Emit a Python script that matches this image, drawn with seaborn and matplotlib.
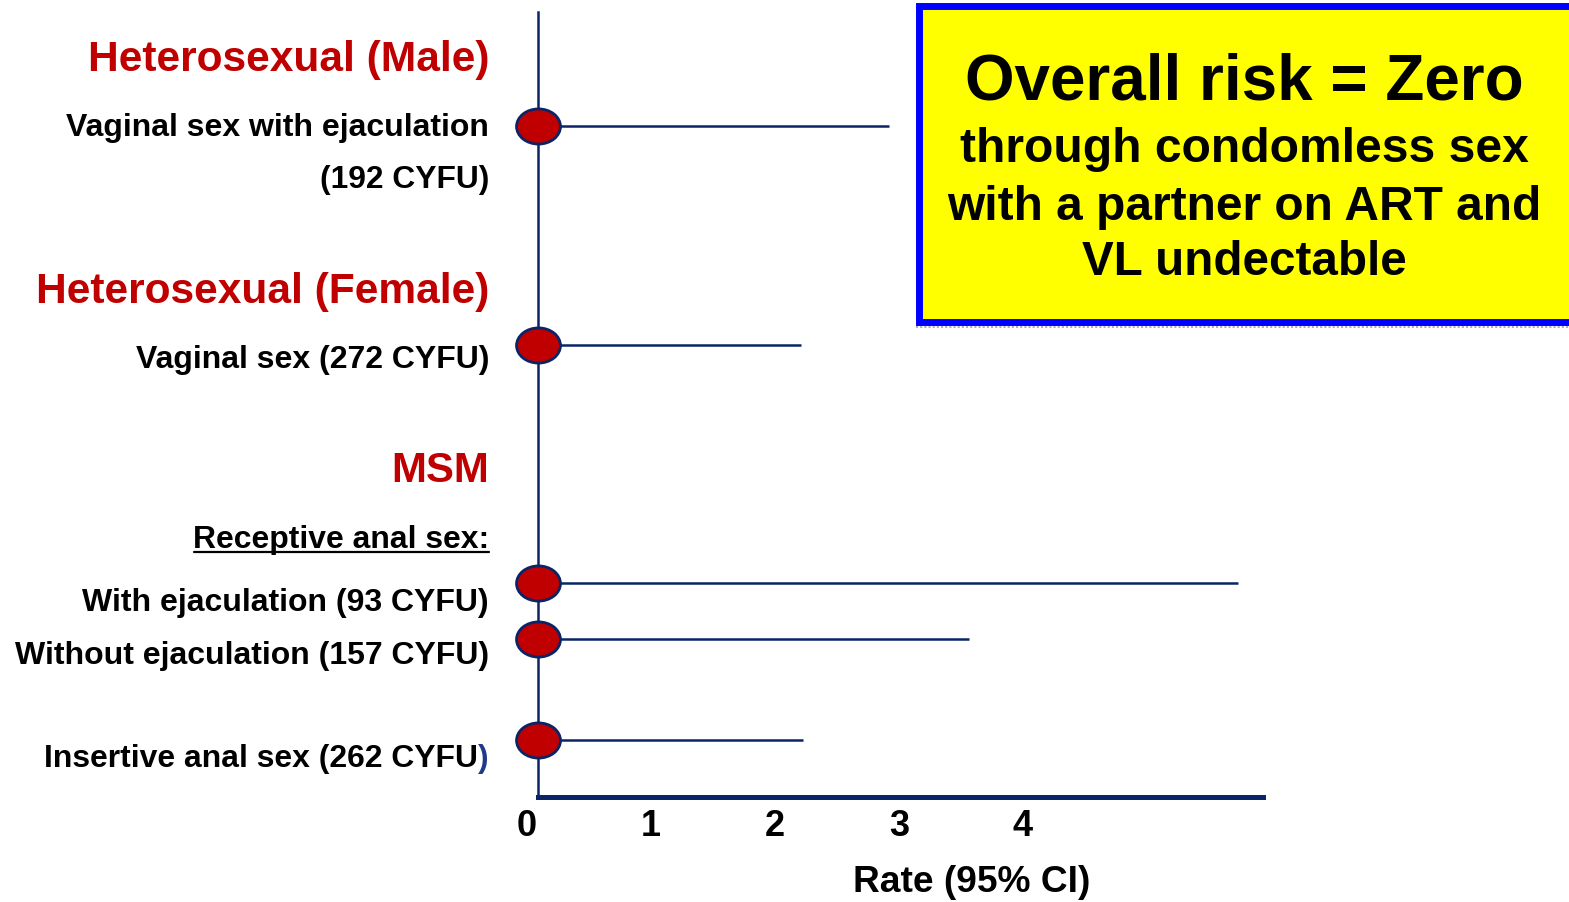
import numpy as np
import pandas as pd
import matplotlib
matplotlib.use("Agg")
import matplotlib.pyplot as plt
import seaborn as sns
from matplotlib.path import Path
from matplotlib.transforms import Affine2D, ScaledTranslation
from matplotlib.patches import Rectangle
from matplotlib.lines import Line2D

# ---------------- data ----------------
categories = ["Vaginal sex with ejaculation", "Vaginal sex",
              "With ejaculation", "Without ejaculation", "Insertive anal sex"]
rate = [0.0, 0.0, 0.0, 0.0, 0.0]
ci_low = [0.0, 0.0, 0.0, 0.0, 0.0]
ci_high = [2.83, 2.12, 5.65, 3.48, 2.14]
tick_values = [0, 1, 2, 3, 4]
tick_labels = ["0", "1", "2", "3", "4"]

# ---------------- layout ----------------
W, H = 1569, 902
row_pos = [126, 345, 583, 639, 740]   # vertical positions of rows (pixel-like units)
NAVY = "#0B2466"
RED = "#C00000"

sns.set_theme(style="white")
plt.rcParams["font.family"] = ["Liberation Sans", "DejaVu Sans"]
plt.rcParams["font.weight"] = "bold"

fig = plt.figure(figsize=(W / 100, H / 100), dpi=100)
fig.patch.set_facecolor("white")
ax = fig.add_axes([538 / W, (H - 797) / H, (1263 - 538) / W, (797 - 12) / H])
ax.set_facecolor("white")

df = pd.DataFrame({"category": categories, "rate": rate, "lo": ci_low,
                   "hi": ci_high, "y": row_pos})

# CI lines
ax.hlines(df["y"], df["lo"], df["hi"], color=NAVY, lw=1.8, zorder=2)

# elliptical markers
ell = Path.unit_circle().transformed(Affine2D().scale(1.0, 0.8))
sns.scatterplot(data=df, x="rate", y="y", marker=ell, s=1000,
                color=RED, edgecolor=NAVY, linewidth=2.0, zorder=5,
                clip_on=False, ax=ax, legend=False)

ax.set_xlim(0, 5.85)
ax.set_ylim(797, 12)
ax.set_yticks([])
ax.set_xticks(tick_values)
ax.set_xticklabels([])
ax.tick_params(axis="x", length=0)
# tick labels, drawn slightly left of their tick positions as in the original
offset = ScaledTranslation(-11 / 100, -29 / 100, fig.dpi_scale_trans)
for v, lab in zip(tick_values, tick_labels):
    ax.text(v, 0, lab, transform=ax.get_xaxis_transform() + offset,
            ha="center", va="center", fontsize=26, fontweight="bold",
            color="black", clip_on=False)
ax.set_xlabel("")
ax.set_ylabel("")
for side in ["top", "right"]:
    ax.spines[side].set_visible(False)
ax.spines["left"].set_color(NAVY)
ax.spines["left"].set_linewidth(1.8)
ax.spines["bottom"].set_color(NAVY)
ax.spines["bottom"].set_linewidth(3.6)
ax.grid(False)

renderer = fig.canvas.get_renderer()


def fit_size(s, width, base=20):
    t = fig.text(0, 0, s, fontsize=base, fontweight="bold")
    bb = t.get_window_extent(renderer)
    t.remove()
    return base * width / bb.width


def place(s, x, y, width, ha="right", color="black", size=None):
    fs = size if size is not None else fit_size(s, width)
    return fig.text(x / W, 1 - y / H, s, ha=ha, va="center", fontsize=fs,
                    fontweight="bold", color=color)


# left labels
place("Heterosexual (Male)", 489, 60, 401, color=RED)
place("Vaginal sex with ejaculation", 489, 128, 423)
place("(192 CYFU)", 489, 180, 169)
place("Heterosexual (Female)", 489, 292, 453, color=RED)
place("Vaginal sex (272 CYFU)", 489, 360, 353)
place("MSM", 489, 471, 98, color=RED)
place("Receptive anal sex:", 489, 540, 295)
fig.add_artist(Line2D([194 / W, 489 / W], [1 - 552 / H, 1 - 552 / H],
                      color="black", lw=1.6, transform=fig.transFigure))
place("With ejaculation (93 CYFU)", 489, 603, 406)
place("Without ejaculation (157 CYFU)", 489, 656, 474)
fs_ins = fit_size("Insertive anal sex (262 CYFU)", 444)
par = place(")", 489, 759, None, color="#1F3A8A", size=fs_ins)
pw = par.get_window_extent(renderer).width
place("Insertive anal sex (262 CYFU", 489 - pw, 759, None, size=fs_ins)

# x label
place("Rate (95% CI)", 972, 883, 237, ha="center")

# yellow box
fig.add_artist(Line2D([916 / W, 1.0], [1 - 327 / H, 1 - 327 / H], color="#B0B0B0",
                      lw=1.5, ls=(0, (1, 1)), transform=fig.transFigure))
fig.add_artist(Rectangle((919 / W, 1 - 322 / H), (1575 - 919) / W, (322 - 6) / H,
                         facecolor="#FFFF00", edgecolor="#0000FF", lw=5.0,
                         transform=fig.transFigure, zorder=3))
place("Overall risk = Zero", 1244, 83, 557, ha="center").set_zorder(4)
place("through condomless sex", 1244, 150, 567, ha="center").set_zorder(4)
place("with a partner on ART and", 1244, 207, 594, ha="center").set_zorder(4)
place("VL undectable", 1244, 263, 325, ha="center").set_zorder(4)

fig.savefig("out.png", dpi=100, facecolor="white")
